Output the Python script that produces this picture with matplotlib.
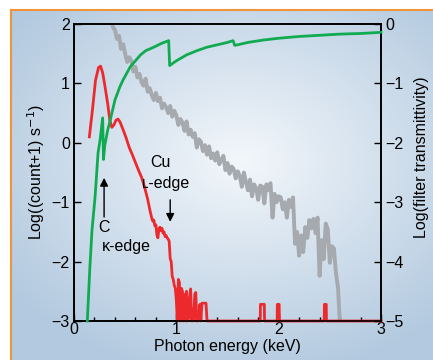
import numpy as np
import matplotlib.pyplot as plt

plt.rcParams['font.family'] = ['Liberation Sans', 'DejaVu Sans']
plt.rcParams['font.size'] = 11.5

# red spectrum (left axis)
RED_E = [0.15, 0.18, 0.21, 0.24, 0.26, 0.28, 0.30, 0.33, 0.35, 0.37, 0.39, 0.41,
         0.43, 0.45, 0.48, 0.51, 0.54, 0.57, 0.60, 0.63, 0.66, 0.69, 0.72, 0.74,
         0.76, 0.77, 0.78, 0.79, 0.80, 0.81, 0.82, 0.83, 0.84, 0.85, 0.86, 0.87,
         0.88, 0.89, 0.90, 0.91, 0.92, 0.93, 0.94, 0.95, 0.96, 0.97, 0.98, 0.99,
         1.00, 1.01, 1.02, 1.03, 1.04, 1.05, 1.06, 1.07, 1.08, 1.09, 1.10, 1.11,
         1.12, 1.13, 1.14, 1.15, 1.16, 1.17, 1.18, 1.19, 1.20, 1.21, 1.22, 1.23,
         1.24, 1.25, 1.27, 1.29, 1.30, 1.82, 1.822, 1.86, 1.862, 1.985, 1.987,
         2.005, 2.007, 2.445, 2.447, 2.465, 2.467, 3.0]
RED_V = [0.10, 0.55, 1.05, 1.27, 1.29, 1.18, 0.98, 0.65, 0.38, 0.26, 0.30, 0.38,
         0.40, 0.35, 0.22, 0.08, -0.08, -0.20, -0.33, -0.46, -0.58, -0.75, -0.95, -1.12,
         -1.27, -1.32, -1.30, -1.40, -1.38, -1.55, -1.60, -1.45, -1.42, -1.48, -1.44, -1.52,
         -1.50, -1.58, -1.56, -1.60, -1.62, -1.66, -1.95, -2.00, -2.25, -2.30, -2.40, -2.45,
         -2.65, -3.00, -2.30, -2.35, -3.00, -2.45, -2.50, -3.00, -2.55, -3.00, -2.50, -3.00,
         -2.95, -2.60, -2.46, -3.00, -2.80, -3.00, -2.55, -2.52, -3.00, -3.00, -2.90, -2.72,
         -3.00, -2.70, -2.70, -2.70, -3.00, -3.00, -2.72, -2.72, -3.00, -3.00, -2.72,
         -2.72, -3.00, -3.00, -2.72, -2.72, -3.00, -3.00]

# gray spectrum (left axis), sampled every 0.02 keV from 0.36 keV
GRAY_START, GRAY_STEP = 0.36, 0.02
GRAY_V = [2.10, 1.95, 1.90, 1.75, 1.80, 1.58, 1.66, 1.50, 1.36, 1.44, 1.38, 1.20,
          1.28, 1.10, 1.16, 1.02, 0.96, 1.08, 0.86, 0.92, 0.80, 0.72, 0.84, 0.70,
          0.76, 0.58, 0.66, 0.60, 0.50, 0.62, 0.44, 0.54, 0.46, 0.30, 0.40, 0.34,
          0.20, 0.36, 0.14, 0.22, 0.10, 0.16, -0.08, 0.06, 0.02, -0.14, -0.04, -0.20,
          -0.06, -0.26, -0.18, -0.30, -0.16, -0.36, -0.28, -0.22, -0.46, -0.34, -0.52, -0.40,
          -0.44, -0.60, -0.48, -0.56, -0.74, -0.50, -0.66, -0.80, -0.62, -0.90, -0.70, -0.76,
          -0.96, -0.72, -0.74, -1.02, -0.70, -0.80, -0.68, -1.26, -0.86, -1.00, -0.90, -0.92,
          -1.12, -1.00, -1.26, -0.96, -1.08, -0.92, -1.70, -1.50, -1.90, -1.56, -1.84, -1.42,
          -1.60, -1.30, -1.44, -1.28, -1.52, -1.26, -2.24, -1.64, -1.96, -1.36, -1.46, -2.02,
          -1.74, -1.78, -2.20, -2.44, -3.10]

# filter transmittivity (right axis)
GREEN_E = [0.13, 0.155, 0.176, 0.206, 0.235, 0.255, 0.28, 0.288, 0.30, 0.33, 0.35, 0.40,
           0.45, 0.48, 0.55, 0.65, 0.70, 0.78, 0.85, 0.925, 0.935, 0.95, 1.0, 1.1,
           1.2, 1.3, 1.4, 1.5, 1.555, 1.57, 1.6, 1.7, 1.85, 2.0, 2.2, 2.4,
           2.6, 2.8, 3.0]
GREEN_V = [-5.0, -4.1, -3.47, -2.91, -2.17, -1.95, -1.58, -2.28, -2.05, -1.78, -1.65, -1.28,
           -1.05, -0.94, -0.72, -0.52, -0.45, -0.39, -0.33, -0.28, -0.70, -0.68, -0.62, -0.52,
           -0.45, -0.39, -0.35, -0.31, -0.28, -0.36, -0.35, -0.31, -0.27, -0.24, -0.21, -0.19,
           -0.17, -0.16, -0.14]

X_TICKS = [0, 1, 2, 3]
LEFT_TICKS = [-3, -2, -1, 0, 1, 2]
RIGHT_TICKS = [-5, -4, -3, -2, -1, 0]

fig = plt.figure(figsize=(4.33, 3.6), dpi=100)

# gradient panel background with orange frame
bg = fig.add_axes([11 / 433, 0, 1 - 11 / 433, 1 - 10 / 360], zorder=-5)
h, w = 350, 422
yy, xx = np.mgrid[0:h, 0:w]
d = np.sqrt(((xx - 230) / 290.0) ** 2 + ((yy - 150) / 220.0) ** 2)
t = np.clip(d, 0, 1)[..., None]
center = np.array([243, 247, 251]) / 255
edge = np.array([178, 201, 223]) / 255
img = center * (1 - t) + edge * t
bg.imshow(img, aspect='auto', extent=[0, 1, 0, 1], origin='upper')
bg.set_xlim(0, 1)
bg.set_ylim(0, 1)
bg.axis('off')
bg.plot([0, 0], [0, 1], color='#f0943a', lw=1.5, clip_on=False)
bg.plot([0, 1], [1, 1], color='#f0943a', lw=1.5, clip_on=False)

ax = fig.add_axes([74 / 433, 1 - 321 / 360, 307 / 433, 297 / 360])
ax.patch.set_alpha(0)
gray_e = GRAY_START + GRAY_STEP * np.arange(len(GRAY_V))
ax.plot(gray_e, GRAY_V, color='#a6a9ad', lw=2.8, zorder=2)
ax.plot(RED_E, RED_V, color='#ec2a2e', lw=2.0, zorder=3, clip_on=False)
ax.set_xlim(0, 3)
ax.set_ylim(-3, 2)
ax.set_xticks(X_TICKS)
ax.set_xticks(np.arange(0, 3.01, 0.2), minor=True)
ax.set_yticks(LEFT_TICKS)
ax.tick_params(direction='in', length=5, width=1, top=False, pad=3)
ax.tick_params(which='minor', direction='in', length=3, width=1, top=False)
ax.tick_params(axis='x', pad=1)
ax.set_xlabel('Photon energy (keV)', labelpad=1)
ax.set_ylabel('Log((count+1) s$^{-1}$)', labelpad=3)

ax2 = ax.twinx()
ax2.plot(GREEN_E, GREEN_V, color='#10ab50', lw=2.0, zorder=3, clip_on=False)
ax2.set_ylim(-5, 0)
ax2.set_yticks(RIGHT_TICKS)
ax2.tick_params(direction='in', length=5, width=1, pad=3)
ax2.set_ylabel('Log(filter transmittivity)')
ax2.yaxis.label.set_va('center')
ax2.yaxis.set_label_coords(1.133, 0.55)

for a in (ax, ax2):
    for s in a.spines.values():
        s.set_linewidth(1.2)

arrow = dict(arrowstyle='-|>', color='k', lw=1.0, mutation_scale=12, shrinkA=0, shrinkB=0)
ax.annotate('', xy=(0.294, -0.59), xytext=(0.294, -1.25), arrowprops=arrow)
ax.annotate('', xy=(0.94, -1.33), xytext=(0.94, -0.96), arrowprops=arrow)
ax.text(0.29, -1.42, 'C', ha='center', va='center')
ax.text(0.51, -1.75, '\u1d0b-edge', ha='center', va='center')
ax.text(0.84, -0.34, 'Cu', ha='center', va='center')
ax.text(0.90, -0.68, '\u029f-edge', ha='center', va='center')

fig.savefig('out.png', dpi=100)
